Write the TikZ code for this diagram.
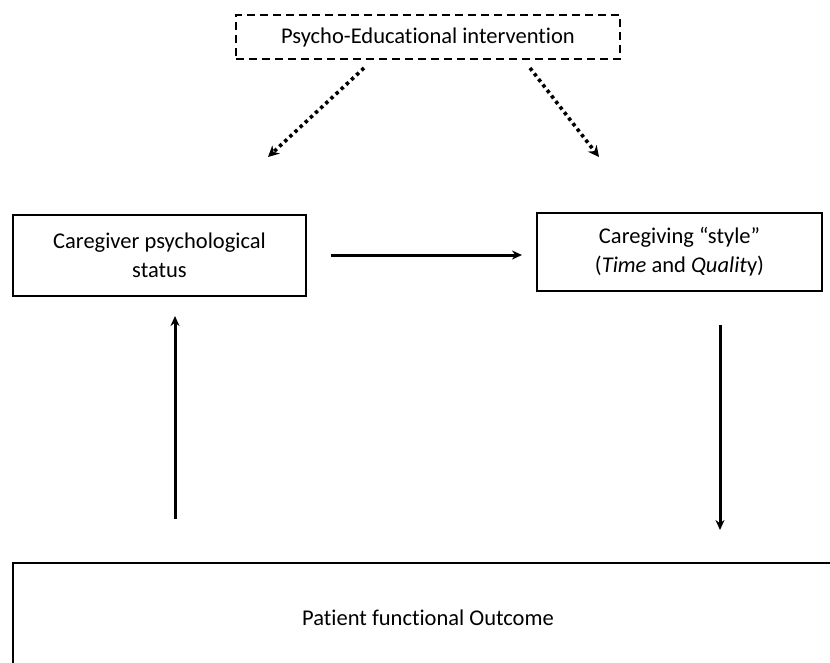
\documentclass[tikz,border=0pt]{standalone}
\usepackage{fontspec}
\setmainfont{Carlito}[Ligatures={NoCommon}]
\usetikzlibrary{arrows.meta}
\begin{document}
\begin{tikzpicture}[x=1pt,y=-1pt,
  box/.style={draw,line width=1.8pt,align=center,font=\fontsize{22.5}{29}\selectfont,inner sep=0pt},
  dbox/.style={box,dash pattern=on 8pt off 5pt},
  arr/.style={line width=3pt,-{Stealth[length=10pt,width=9pt]}},
  darr/.style={line width=3.6pt,dash pattern=on 3.4pt off 3.6pt,-{Stealth[length=11pt,width=11pt]}}]
\useasboundingbox (0,0) rectangle (830,662);
\clip (0,0) rectangle (830,662);
\node[dbox,minimum width=384pt,minimum height=44pt] (int) at (428,37) {Psycho-Educational intervention};
\node[box,minimum width=293pt,minimum height=81pt] (psy) at (159.5,255.5) {Caregiver psychological\\status};
\node[box,minimum width=285pt,minimum height=78pt] (sty) at (679.5,252) {Caregiving “style”\\(\textit{Time} and \textit{Qualit}y)};
\node[box,minimum width=830pt,minimum height=110pt] (out) at (428,618) {Patient functional Outcome};
\coordinate (d1s) at (364,68);
\coordinate (d1e) at (268,157);
\coordinate (d2s) at (530,68);
\coordinate (d2e) at (599,157);
\draw[darr] (d1s) -- (d1e);
\draw[darr] (d2s) -- (d2e);
\coordinate (hs) at (331,255);
\coordinate (he) at (522,255);
\draw[arr] (hs) -- (he);
\coordinate (ls) at (175,519);
\coordinate (le) at (175,316);
\draw[arr] (ls) -- (le);
\coordinate (rs) at (720,325);
\coordinate (re) at (720,530);
\draw[arr] (rs) -- (re);
\end{tikzpicture}
\end{document}
